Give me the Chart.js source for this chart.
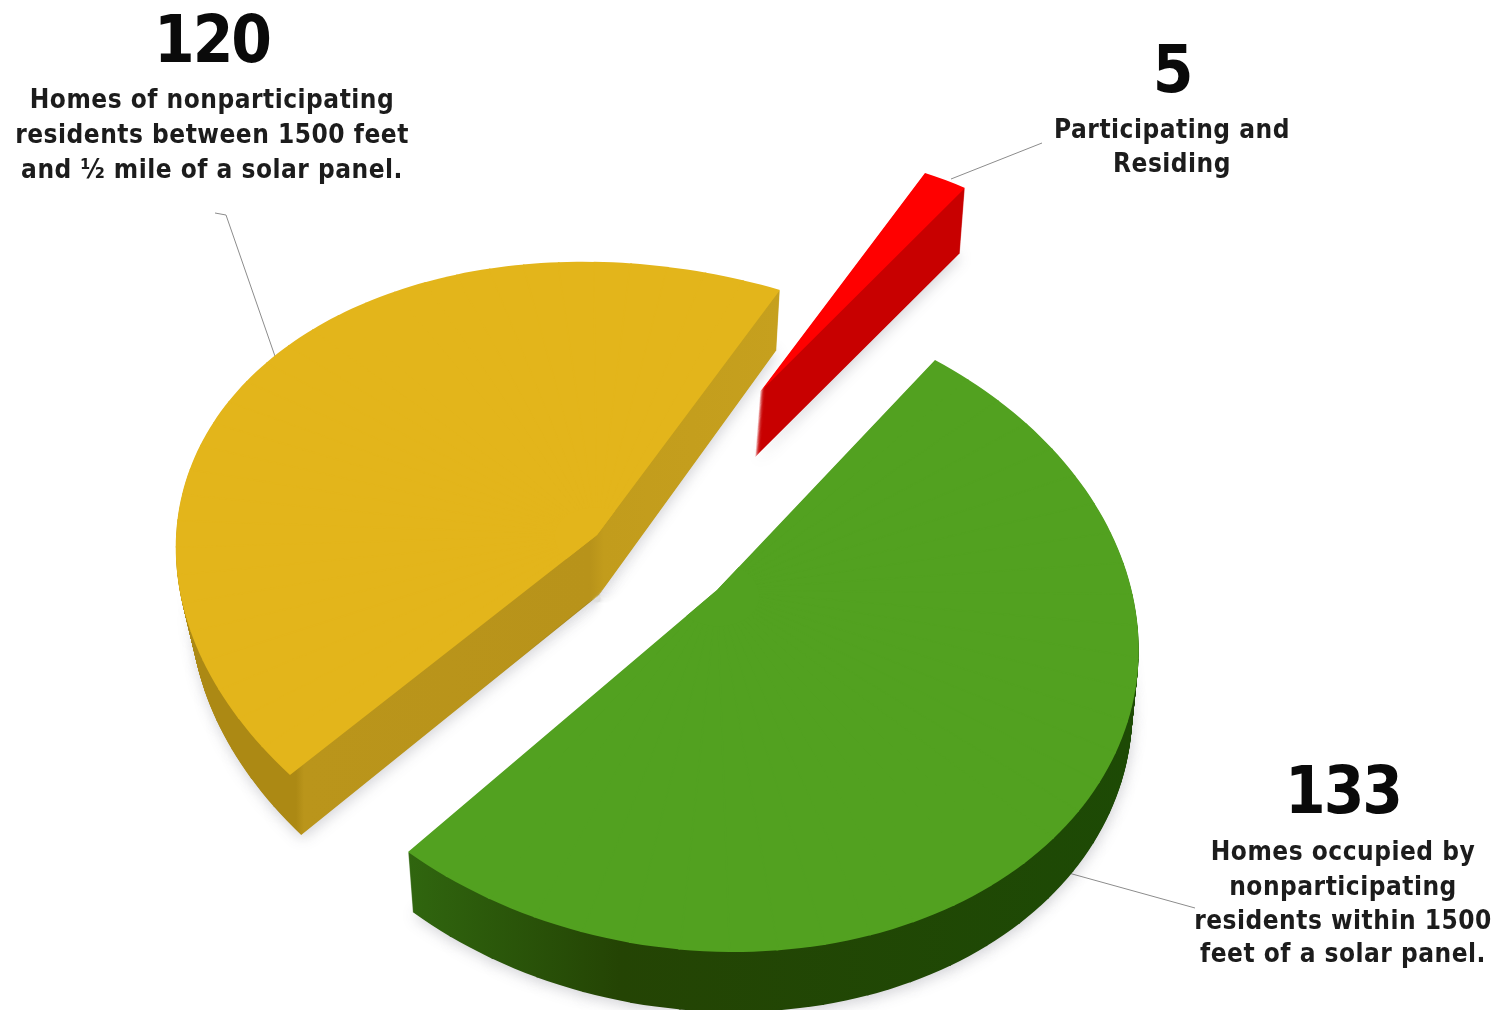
<!DOCTYPE html>
<html>
<head>
<meta charset="utf-8">
<style>
  html, body { margin: 0; background: #fff; }
  canvas { display: block; filter: blur(0.6px); }
</style>
<script src="https://cdn.jsdelivr.net/npm/chart.js@4"></script>
</head>
<body>
<canvas id="homes" width="1504" height="1010"></canvas>
<script>
const categories = ['Homes occupied by nonparticipating residents within 1500 feet of a solar panel.',
    'Homes of nonparticipating residents between 1500 feet and ½ mile of a solar panel.',
    'Participating and Residing'];
const homes = [133, 120, 5];
const topColors = ['#52a120', '#e3b51b', '#ff0000'];

const numberLabels = ['133', '120', '5'];
const textLabels = [
    ['Homes occupied by', 'nonparticipating', 'residents within 1500', 'feet of a solar panel.'],
    ['Homes of nonparticipating', 'residents between 1500 feet', 'and ½ mile of a solar panel.'],
    ['Participating and', 'Residing']
];

// page placement of each slice: apex, rim anchors at its start / middle / end angle,
// extrusion vector, how much the lower face narrows, and side shading by page x
const sliceFrames = [
    { apex: [717, 590], rim: [[935, 360], [1079, 811], [408, 852]], depth: [0, 60], narrow: 0.985,
      side: [[408, '#30660f'], [620, '#244404'], [1130, '#1d4a05']] },
    { apex: [597, 535], rim: [[290, 775], [266, 363], [780, 290]], depth: [2, 60], narrow: 0.97,
      side: [[190, '#ac8914'], [296, '#ac8914'], [304, '#ba951b'], [590, '#b8931a'], [604, '#c29c1c'], [780, '#c6a01e']] },
    { apex: [760, 392], rim: [[925, 173], [965, 188]], depth: [-5, 65], narrow: 1,
      side: [[750, '#c80000'], [970, '#c80000']] }
];
const labelSpots = [
    { x: 1343, num: 813, lines: [860, 895, 929, 962] },
    { x: 212, num: 62, lines: [108, 143, 178] },
    { x: 1172, num: 92, lines: [138, 172] }
];
const leaderLines = [
    [[1065, 872], [1195, 908]],
    [[215, 213], [226, 215], [277, 362]],
    [[951, 179], [1042, 143]]
];
const startAngle = 39;
const piecesPerSlice = 32;

function solve(A, b) {
    const n = b.length;
    const M = A.map((row, i) => [...row, b[i]]);
    for (let i = 0; i < n; i++) {
        let best = i;
        for (let r = i + 1; r < n; r++) if (Math.abs(M[r][i]) > Math.abs(M[best][i])) best = r;
        [M[i], M[best]] = [M[best], M[i]];
        for (let r = 0; r < n; r++) {
            if (r === i) continue;
            const k = M[r][i] / M[i][i];
            for (let c = i; c <= n; c++) M[r][c] -= k * M[i][c];
        }
    }
    return M.map((row, i) => row[n] / row[i]);
}

// perspective: a slice is not one affine ellipse, so rim points come from a homography
// fixed by apex + three anchors, and the slice is drawn as short affine pieces between them
function rimPoints(arc, f) {
    if (f.rim.length < 3) return f.rim;
    const circ = arc.circumference;
    const A = [], b = [];
    f.rim.forEach((p, i) => {
        const a = arc.startAngle + circ * i / 2;
        const x = Math.cos(a), y = Math.sin(a);
        const X = p[0] - f.apex[0], Y = p[1] - f.apex[1];
        A.push([x, y, 0, 0, -X * x, -X * y]); b.push(X);
        A.push([0, 0, x, y, -Y * x, -Y * y]); b.push(Y);
    });
    const h = solve(A, b);
    const pts = [];
    for (let k = 0; k <= piecesPerSlice; k++) {
        const a = arc.startAngle + circ * k / piecesPerSlice;
        const x = Math.cos(a), y = Math.sin(a);
        const w = h[4] * x + h[5] * y + 1;
        pts.push([f.apex[0] + (h[0] * x + h[1] * y) / w, f.apex[1] + (h[2] * x + h[3] * y) / w]);
    }
    return pts;
}

const tiltedPie = {
    id: 'tiltedPie',
    beforeDatasetsDraw(chart) {
        const ctx = chart.ctx;
        const arcs = chart.getDatasetMeta(0).data;

        ctx.strokeStyle = '#8c8c8c';
        ctx.lineWidth = 1;
        leaderLines.forEach(pts => {
            ctx.beginPath();
            pts.forEach((p, i) => i ? ctx.lineTo(p[0], p[1]) : ctx.moveTo(p[0], p[1]));
            ctx.stroke();
        });

        // draws one piece of a slice, mapped so its two edges land on rim points
        const drawPiece = (arc, f, rim, k, sx, dx, dy, color) => {
            const n = rim.length - 1;
            const start = arc.startAngle, end = arc.endAngle, circ = arc.circumference;
            const a0 = start + circ * k / n;
            const a1 = start + circ * (k + 1) / n;
            const r = arc.outerRadius;
            const p = [rim[k][0] - f.apex[0], rim[k][1] - f.apex[1]];
            const q = [rim[k + 1][0] - f.apex[0], rim[k + 1][1] - f.apex[1]];
            const c0 = Math.cos(a0) * r, s0 = Math.sin(a0) * r, c1 = Math.cos(a1) * r, s1 = Math.sin(a1) * r;
            const det = c0 * s1 - c1 * s0;
            const m = [
                sx * (p[0] * s1 - q[0] * s0) / det, (p[1] * s1 - q[1] * s0) / det,
                sx * (q[0] * c0 - p[0] * c1) / det, (q[1] * c0 - p[1] * c1) / det
            ];
            const ox = f.apex[0] + dx, oy = f.apex[1] + dy;
            ctx.save();
            ctx.translate(ox, oy);
            ctx.transform(m[0], m[1], m[2], m[3], 0, 0);
            ctx.translate(-arc.x, -arc.y);

            let fill = color;
            if (!fill) {
                // gradient that runs along page x whatever the piece's transform is
                const len = m[0] * m[0] + m[2] * m[2];
                const x0 = f.side[0][0], x1 = f.side[f.side.length - 1][0];
                const at = x => [arc.x + (x - ox) * m[0] / len, arc.y + (x - ox) * m[2] / len];
                const g0 = at(x0), g1 = at(x1);
                fill = ctx.createLinearGradient(g0[0], g0[1], g1[0], g1[1]);
                f.side.forEach(s => fill.addColorStop((s[0] - x0) / (x1 - x0), s[1]));
            }
            const saved = arc.options;
            arc.options = Object.create(saved, { backgroundColor: { value: fill } });
            arc.startAngle = a0;
            // small overlap so no hairline shows between pieces
            arc.endAngle = k < n - 1 ? a1 + 0.004 : a1;
            arc.circumference = arc.endAngle - a0;
            arc.draw(ctx);
            arc.options = saved;
            arc.startAngle = start;
            arc.endAngle = end;
            arc.circumference = circ;
            ctx.restore();
        };

        [1, 2, 0].forEach(i => {
            const arc = arcs[i], f = sliceFrames[i];
            const rim = rimPoints(arc, f);
            const n = rim.length - 1;
            const steps = f.depth[1];
            for (let s = steps; s > 0; s--) {
                const t = s / steps;
                const sx = 1 - (1 - f.narrow) * t;
                ctx.save();
                if (s === steps) {
                    ctx.shadowColor = 'rgba(40,40,60,0.2)';
                    ctx.shadowBlur = 14;
                    ctx.shadowOffsetX = 1;
                    ctx.shadowOffsetY = 4;
                }
                for (let k = 0; k < n; k++) drawPiece(arc, f, rim, k, sx, f.depth[0] * t, f.depth[1] * t);
                ctx.restore();
            }
            for (let k = 0; k < n; k++) drawPiece(arc, f, rim, k, 1, 0, 0, topColors[i]);
            // cover the joins on the top face
            ctx.strokeStyle = topColors[i];
            ctx.fillStyle = topColors[i];
            ctx.lineWidth = 1.5;
            for (let k = 1; k < n; k++) {
                const dx = rim[k][0] - f.apex[0], dy = rim[k][1] - f.apex[1];
                ctx.beginPath();
                ctx.moveTo(f.apex[0] + dx * 0.05, f.apex[1] + dy * 0.05);
                ctx.lineTo(f.apex[0] + dx * 0.99, f.apex[1] + dy * 0.99);
                ctx.stroke();
            }
            if (n > 1) {
                ctx.beginPath();
                ctx.moveTo(f.apex[0], f.apex[1]);
                rim.forEach(p => ctx.lineTo(f.apex[0] + (p[0] - f.apex[0]) * 0.1, f.apex[1] + (p[1] - f.apex[1]) * 0.1));
                ctx.closePath();
                ctx.fill();
            }
        });
        return false;
    },
    afterDraw(chart) {
        const ctx = chart.ctx;
        ctx.save();
        ctx.textAlign = 'center';
        ctx.textBaseline = 'alphabetic';
        labelSpots.forEach((spot, i) => {
            ctx.fillStyle = '#0a0a0a';
            ctx.letterSpacing = '-2px';
            ctx.font = 'bold 65px "DejaVu Sans Condensed", "DejaVu Sans"';
            ctx.fillText(numberLabels[i], spot.x, spot.num);
            ctx.fillStyle = '#1c1c1c';
            ctx.letterSpacing = '0.5px';
            ctx.font = 'bold 26px "DejaVu Sans Condensed", "DejaVu Sans"';
            textLabels[i].forEach((line, k) => ctx.fillText(line, spot.x, spot.lines[k]));
        });
        ctx.restore();
    }
};

new Chart(document.getElementById('homes'), {
    type: 'pie',
    data: {
        labels: categories,
        datasets: [{
            data: homes,
            backgroundColor: topColors,
            borderWidth: 0
        }]
    },
    options: {
        responsive: false,
        animation: false,
        rotation: startAngle,
        layout: { padding: 0 },
        plugins: {
            legend: { display: false },
            tooltip: { enabled: false }
        }
    },
    plugins: [tiltedPie]
});
</script>
</body>
</html>
